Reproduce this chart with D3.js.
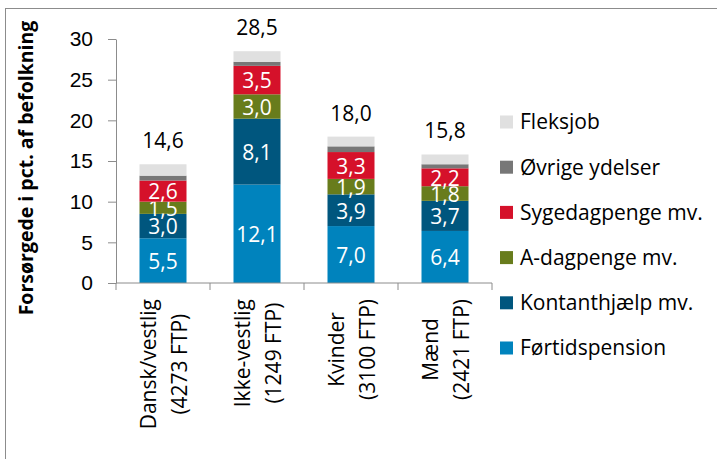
<!DOCTYPE html>
<html>
<head>
<meta charset="utf-8">
<script src="https://cdn.jsdelivr.net/npm/d3@7"></script>
<style>
  body { margin: 0; background: #fff; }
  svg { display: block; font-family: "Open Sans", Lato, sans-serif; }
  .axis path, .axis line { stroke: #8c8c8c; }
  .axis text { font-size: 21px; fill: #000; }
</style>
</head>
<body>
<div id="wrapper"></div>
<script>
// data
const categoryNames = ["Dansk/vestlig", "Ikke-vestlig", "Kvinder", "Mænd"]
const categorySizes = ["(4273 FTP)", "(1249 FTP)", "(3100 FTP)", "(2421 FTP)"]
const seriesNames = ["Førtidspension", "Kontanthjælp mv.", "A-dagpenge mv.", "Sygedagpenge mv.", "Øvrige ydelser", "Fleksjob"]
const foertidspension = [5.5, 12.1, 7.0, 6.4]
const kontanthjaelp = [3.0, 8.1, 3.9, 3.7]
const adagpenge = [1.5, 3.0, 1.9, 1.8]
const sygedagpenge = [2.6, 3.5, 3.3, 2.2]
const oevrige = [0.6, 0.5, 0.7, 0.5]
const fleksjob = [1.4, 1.3, 1.2, 1.2]
const totals = [14.6, 28.5, 18.0, 15.8]
const yTicks = [0, 5, 10, 15, 20, 25, 30]
const seriesColors = ["#0083bd", "#00567e", "#687c1c", "#d5112a", "#777777", "#e0e0e0"]
const labelledSeries = ["Førtidspension", "Kontanthjælp mv.", "A-dagpenge mv.", "Sygedagpenge mv."]

const seriesValues = [foertidspension, kontanthjaelp, adagpenge, sygedagpenge, oevrige, fleksjob]
const table = categoryNames.map((c, i) => {
  const row = { category: c }
  seriesNames.forEach((s, j) => row[s] = seriesValues[j][i])
  return row
})

const dimensions = {
  width: 717,
  height: 459,
  margin: { top: 39, right: 225, bottom: 176, left: 116 },
}
dimensions.boundedWidth = dimensions.width - dimensions.margin.left - dimensions.margin.right
dimensions.boundedHeight = dimensions.height - dimensions.margin.top - dimensions.margin.bottom

const fmt = d3.formatLocale({ decimal: ",", thousands: ".", grouping: [3], currency: ["", " kr"] }).format(".1f")

const wrapper = d3.select("#wrapper")
  .append("svg")
    .attr("width", dimensions.width)
    .attr("height", dimensions.height)

// frame
wrapper.append("rect")
    .attr("x", 5.5)
    .attr("y", 8.5)
    .attr("width", 760)
    .attr("height", 500)
    .attr("fill", "none")
    .attr("stroke", "#8c8c8c")

const bounds = wrapper.append("g")
    .attr("transform", `translate(${dimensions.margin.left},${dimensions.margin.top})`)

// scales
const xScale = d3.scaleBand()
  .domain(categoryNames)
  .range([0, dimensions.boundedWidth])
  .paddingInner(0.5)
  .paddingOuter(0.25)

const yScale = d3.scaleLinear()
  .domain([0, 30])
  .range([dimensions.boundedHeight, 0])

const color = d3.scaleOrdinal().domain(seriesNames).range(seriesColors)

const stacked = d3.stack().keys(seriesNames)(table)

// bars
const layers = bounds.selectAll(".layer")
  .data(stacked)
  .join("g")
    .attr("class", "layer")
    .attr("fill", d => color(d.key))

layers.selectAll("rect")
  .data(d => d)
  .join("rect")
    .attr("x", d => xScale(d.data.category))
    .attr("y", d => yScale(d[1]))
    .attr("width", xScale.bandwidth())
    .attr("height", d => yScale(d[0]) - yScale(d[1]))

// segment labels
layers.filter(d => labelledSeries.includes(d.key))
  .selectAll("text")
  .data(d => d)
  .join("text")
    .attr("x", d => xScale(d.data.category) + xScale.bandwidth() / 2)
    .attr("y", d => yScale((d[0] + d[1]) / 2) + 1)
    .attr("dy", "0.35em")
    .attr("text-anchor", "middle")
    .attr("fill", "#fff")
    .style("font-size", "21px")
    .text(d => fmt(d[1] - d[0]))

// totals
bounds.append("g")
  .selectAll("text")
  .data(totals)
  .join("text")
    .attr("x", (d, i) => xScale(categoryNames[i]) + xScale.bandwidth() / 2)
    .attr("y", d => yScale(d) - 16)
    .attr("text-anchor", "middle")
    .style("font-size", "21px")
    .text(d => fmt(d))

// y axis
const yAxis = bounds.append("g")
    .attr("class", "axis")
    .call(d3.axisLeft(yScale).tickValues(yTicks).tickSize(8).tickPadding(15).tickSizeOuter(0))

// x axis line with ticks between categories
const xAxis = bounds.append("g")
    .attr("class", "axis")
    .attr("transform", `translate(0,${dimensions.boundedHeight})`)
xAxis.append("line")
    .attr("x1", 0)
    .attr("x2", dimensions.boundedWidth)
xAxis.selectAll(".sep")
  .data(d3.range(categoryNames.length + 1))
  .join("line")
    .attr("class", "sep")
    .attr("x1", i => i * xScale.step())
    .attr("x2", i => i * xScale.step())
    .attr("y2", 7)

// category labels, rotated, lines centred on each other
const labelTop = 16
const catLabels = xAxis.selectAll(".cat")
  .data(categoryNames)
  .join("g")
    .attr("class", "cat")
catLabels.each(function(d, i) {
  const g = d3.select(this)
  const cx = xScale(d) + xScale.bandwidth() / 2
  const lines = [categoryNames[i], categorySizes[i]]
  const texts = g.selectAll("text")
    .data(lines)
    .join("text")
      .style("font-size", "21px")
      .attr("text-anchor", "middle")
      .text(t => t)
  const maxLen = d3.max(texts.nodes(), n => n.getComputedTextLength())
  const cy = labelTop + maxLen / 2
  texts.attr("transform", (t, k) => `translate(${cx + (k === 0 ? -7 : 24)},${cy}) rotate(-90)`)
})

// y axis title
wrapper.append("text")
    .attr("transform", `translate(33,168) rotate(-90)`)
    .attr("text-anchor", "middle")
    .style("font-size", "19.5px")
    .style("font-weight", "bold")
    .text("Forsørgede i pct. af befolkning")

// legend
const legendY = d3.scalePoint()
  .domain(seriesNames.slice().reverse())
  .range([122, 348])

const legend = wrapper.append("g")
  .selectAll("g")
  .data(seriesNames.slice().reverse())
  .join("g")
    .attr("transform", d => `translate(500,${legendY(d)})`)
legend.append("rect")
    .attr("y", -6.5)
    .attr("width", 13)
    .attr("height", 13)
    .attr("fill", d => color(d))
legend.append("text")
    .attr("x", 20)
    .attr("dy", "0.35em")
    .style("font-size", "21px")
    .text(d => d)
</script>
</body>
</html>
